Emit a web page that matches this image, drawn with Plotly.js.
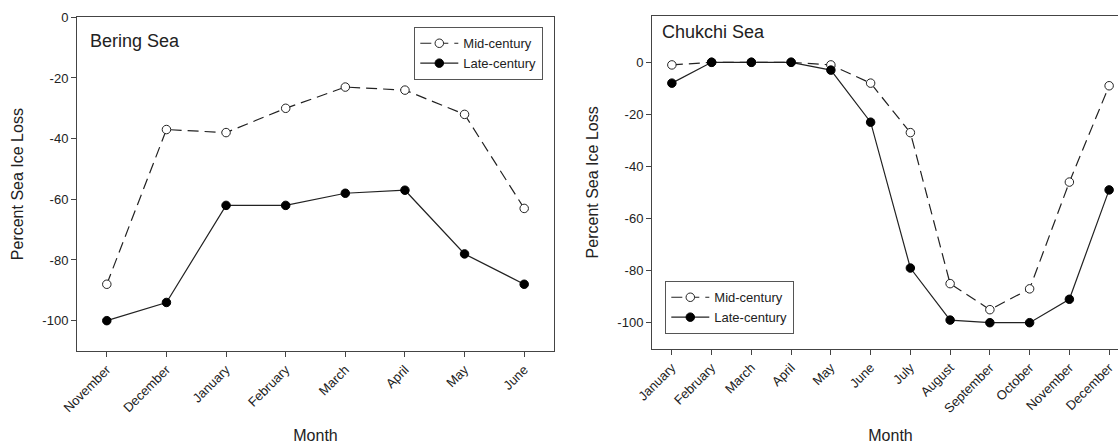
<!DOCTYPE html>
<html>
<head>
<meta charset="utf-8">
<script src="https://cdn.plot.ly/plotly-3.0.1.min.js"></script>
<style>
html,body{margin:0;padding:0;overflow:hidden;background:#fff;}
#chart{width:1140px;height:444px;}
</style>
</head>
<body>
<div id="chart"></div>
<script>
// Bering Sea (November – June)
const beringMonths = ["November","December","January","February","March","April","May","June"];
const beringMid  = [-88, -37, -38, -30, -23, -24, -32, -63];
const beringLate = [-100, -94, -62, -62, -58, -57, -78, -88];

// Chukchi Sea (January – December)
const chukchiMonths = ["January","February","March","April","May","June","July","August","September","October","November","December"];
const chukchiMid  = [-1, 0, 0, 0, -1, -8, -27, -85, -95, -87, -46, -9];
const chukchiLate = [-8, 0, 0, 0, -3, -23, -79, -99, -100, -100, -91, -49];

const yTicks = [0, -20, -40, -60, -80, -100];
const seriesNames = ["Mid-century", "Late-century"];

const W = 1140, H = 444;
const FONT = "Liberation Sans, Arial, sans-serif";
const INK = "#222";
const AX = "#444";

function midTrace(x, y, xa, ya, lg) {
  return {x: x, y: y, xaxis: xa, yaxis: ya, legend: lg, name: seriesNames[0],
    type: "scatter", mode: "lines+markers",
    line: {color: "#222", width: 1.2, dash: "11px,6px"},
    marker: {symbol: "circle", size: 8.5, color: "#fff", line: {color: "#222", width: 1}}};
}
function lateTrace(x, y, xa, ya, lg) {
  return {x: x, y: y, xaxis: xa, yaxis: ya, legend: lg, name: seriesNames[1],
    type: "scatter", mode: "lines+markers",
    line: {color: "#222", width: 1.2},
    marker: {symbol: "circle", size: 8.5, color: "#000", line: {color: "#000", width: 1}}};
}

const data = [
  midTrace(beringMonths, beringMid, "x", "y", "legend"),
  lateTrace(beringMonths, beringLate, "x", "y", "legend"),
  midTrace(chukchiMonths, chukchiMid, "x2", "y2", "legend2"),
  lateTrace(chukchiMonths, chukchiLate, "x2", "y2", "legend2")
];

function xAxis(domain, nCat, anchor) {
  return {domain: domain, anchor: anchor, type: "category",
    range: [-0.5, nCat - 0.5], showline: true, mirror: true,
    linecolor: AX, linewidth: 1, ticks: "outside", ticklen: 5, tickcolor: AX,
    tickangle: -45, showgrid: false, zeroline: false,
    tickfont: {family: FONT, size: 13, color: INK},
    title: {text: "Month", font: {family: FONT, size: 16, color: INK}, standoff: 18}};
}
function yAxis(domain, range, anchor) {
  return {domain: domain, anchor: anchor, range: range,
    tickvals: yTicks, ticktext: yTicks.map(String),
    showline: true, mirror: true, linecolor: AX, linewidth: 1,
    ticks: "outside", ticklen: 5, tickcolor: AX, showgrid: false, zeroline: false,
    tickfont: {family: FONT, size: 13, color: INK},
    title: {text: "Percent Sea Ice Loss", font: {family: FONT, size: 16, color: INK}, standoff: 14}};
}

const legendStyle = {xanchor: "left", yanchor: "top",
  bgcolor: "#fff", bordercolor: "#555", borderwidth: 1.3, itemwidth: 38,
  font: {family: FONT, size: 13, color: INK}, tracegroupgap: 0};

const layout = {
  width: W, height: H,
  margin: {l: 0, r: 0, t: 0, b: 0},
  paper_bgcolor: "#fff", plot_bgcolor: "#fff",
  font: {family: FONT, color: INK},
  xaxis: xAxis([77 / W, 554 / W], beringMonths.length, "y"),
  yaxis: yAxis([1 - 351 / H, 1 - 17.3 / H], [-110, 0], "x"),
  xaxis2: xAxis([652 / W, 1129 / W], chukchiMonths.length, "y2"),
  yaxis2: yAxis([1 - 349 / H, 1 - 15.7 / H], [-110.1, 17.9], "x2"),
  legend: Object.assign({x: 414 / W, y: 1 - 27 / H}, legendStyle),
  legend2: Object.assign({x: 665 / W, y: 1 - 281 / H}, legendStyle),
  annotations: [
    {text: "Bering Sea", xref: "paper", yref: "paper", x: 88 / W, y: 1 - 41 / H,
      xanchor: "left", yanchor: "middle", showarrow: false,
      font: {family: FONT, size: 18, color: INK}},
    {text: "Chukchi Sea", xref: "paper", yref: "paper", x: 660 / W, y: 1 - 32.3 / H,
      xanchor: "left", yanchor: "middle", showarrow: false,
      font: {family: FONT, size: 18, color: INK}}
  ],
  showlegend: true
};

Plotly.newPlot("chart", data, layout, {displayModeBar: false, staticPlot: true});
</script>
</body>
</html>
